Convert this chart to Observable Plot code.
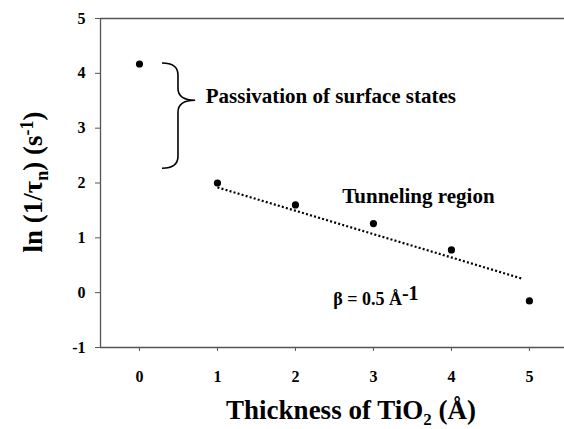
<!DOCTYPE html>
<html><head><meta charset="utf-8">
<script src="https://cdn.jsdelivr.net/npm/d3@7"></script>
<script src="https://cdn.jsdelivr.net/npm/@observablehq/plot@0.6"></script>
<style>body{margin:0;background:#fff} svg{display:block}</style>
</head><body><div id="chart"></div>
<script>
// Data
const thickness = [0, 1, 2, 3, 4, 5];
const lnRate = [4.17, 2.0, 1.6, 1.26, 0.78, -0.15];
// dotted fit line (tunneling region)
const fitX = [1, 4.92];
const fitY = [1.92, 0.25];
// ticks
const xTicks = [0, 1, 2, 3, 4, 5];
const yTicks = [-1, 0, 1, 2, 3, 4, 5];
// annotations
const noteLabels = ["Passivation of surface states", "Tunneling region"];
const noteX = [0.85, 2.6];
const noteY = [3.45, 1.63];
// brace (data units): left ends, spine, tip; top, middle, bottom
const braceX = [0.295, 0.5, 0.72];
const braceY = [4.18, 3.5, 2.26];
// beta label anchor
const betaX = 2.49, betaY = -0.24;

const xMin = -0.5, xMax = 5.45, yMin = -1, yMax = 5;

const points = thickness.map((t, i) => ({t, v: lnRate[i]}));
const fit = fitX.map((x, i) => ({x, y: fitY[i]}));
const notes = noteLabels.map((label, i) => ({label, x: noteX[i], y: noteY[i]}));

const FONT = "'Liberation Serif', 'Times New Roman', serif";
const axisColor = "#555";

const chart = Plot.plot({
  width: 564, height: 429,
  marginLeft: 100, marginRight: 0, marginTop: 18, marginBottom: 82,
  x: {domain: [xMin, xMax], axis: null},
  y: {domain: [yMin, yMax], axis: null},
  style: `font-family: ${FONT}; font-weight: bold; font-size: 15px; background: #fff; color: #000;`,
  marks: [
    Plot.ruleY([yMax], {stroke: axisColor, strokeWidth: 1.3}),
    Plot.ruleY([yMin], {stroke: axisColor, strokeWidth: 1.3}),
    Plot.ruleX([xMin], {stroke: axisColor, strokeWidth: 1.3}),
    // tick marks
    Plot.ruleX(xTicks, {x: d => d, y1: yMin, y2: yMin, insetBottom: -4, stroke: axisColor, strokeWidth: 1}),
    Plot.ruleY(yTicks, {y: d => d, x1: xMin, x2: xMin, insetLeft: -5, stroke: axisColor, strokeWidth: 1}),
    // tick labels
    Plot.text(xTicks, {x: d => d, y: yMin, text: d => String(d), lineAnchor: "top", dy: 23, fontSize: 16, fontWeight: "bold", fill: "#000", fontFamily: FONT}),
    Plot.text(yTicks, {y: d => d, x: xMin, text: d => String(d), textAnchor: "end", dx: -15, fontSize: 16, fontWeight: "bold", fill: "#000", fontFamily: FONT}),
    Plot.line(fit, {x: "x", y: "y", stroke: "#000", strokeWidth: 2.2, strokeDasharray: "2,2.2", strokeLinecap: "butt"}),
    Plot.dot(points, {x: "t", y: "v", r: 3.6, fill: "#000", stroke: null}),
    Plot.text(notes, {x: "x", y: "y", text: "label", textAnchor: "start", lineAnchor: "bottom", fontSize: 21, fontWeight: "bold", fill: "#000", fontFamily: FONT})
  ]
});

document.getElementById("chart").appendChild(chart);

const sx = chart.scale("x"), sy = chart.scale("y");
const X = v => sx.apply(v), Y = v => sy.apply(v);
const svg = d3.select(chart);

// Curly brace
{
  const xl = X(braceX[0]), xs = X(braceX[1]), xt = X(braceX[2]);
  const yt = Y(braceY[0]), ym = Y(braceY[1]), yb = Y(braceY[2]);
  const r = 12;
  const d = `M${xl},${yt} Q${xs},${yt} ${xs},${yt + r} L${xs},${ym - r} Q${xs},${ym} ${xt},${ym}` +
            ` M${xt},${ym} Q${xs},${ym} ${xs},${ym + r} L${xs},${yb - r} Q${xs},${yb} ${xl},${yb}`;
  svg.append("path").attr("d", d).attr("fill", "none").attr("stroke", "#000").attr("stroke-width", 1.6);
}

// beta label
{
  const t = svg.append("text").attr("x", X(betaX)).attr("y", Y(betaY)).attr("text-anchor", "start")
    .style("font-family", FONT).style("font-weight", "bold").style("font-size", "18px");
  t.append("tspan").text("β = 0.5 Å");
  t.append("tspan").attr("dy", -5).style("font-size", "20px").text("-1");
}

// x title
{
  const t = svg.append("text").attr("x", 351).attr("y", 419).attr("text-anchor", "middle")
    .style("font-family", FONT).style("font-weight", "bold").style("font-size", "27px");
  t.append("tspan").text("Thickness of TiO");
  t.append("tspan").attr("dy", 6).style("font-size", "17px").text("2");
  t.append("tspan").attr("dy", -6).text(" (Å)");
}

// y title
{
  const t = svg.append("text").attr("transform", "translate(42,182) rotate(-90)").attr("text-anchor", "middle")
    .style("font-family", FONT).style("font-weight", "bold").style("font-size", "27px");
  t.append("tspan").text("ln (1/τ");
  t.append("tspan").attr("dy", 6).style("font-size", "18px").text("n");
  t.append("tspan").attr("dy", -6).text(") (s");
  t.append("tspan").attr("dy", -9).style("font-size", "18px").text("-1");
  t.append("tspan").attr("dy", 9).text(")");
}
</script>
</body></html>
